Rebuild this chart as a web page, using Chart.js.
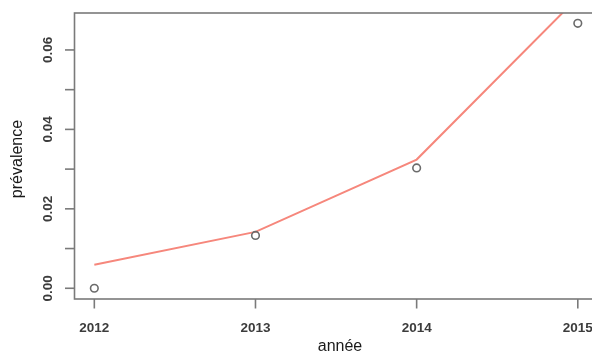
<!DOCTYPE html>
<html>
<head>
<meta charset="utf-8">
<script src="https://cdn.jsdelivr.net/npm/chart.js@4"></script>
<style>
  html, body { margin: 0; padding: 0; background: #fff; overflow: hidden; width: 592px; height: 356px; }
  #wrap { position: relative; width: 600px; height: 356px; }
  #c { display: block; width: 600px; height: 356px; }
</style>
</head>
<body>
<div id="wrap"><canvas id="c" width="600" height="356"></canvas></div>
<script>
const years = [2012, 2013, 2014, 2015];
const observed = [0.000, 0.0133, 0.0303, 0.0667];
const fitted = [0.0059, 0.0142, 0.0324, 0.0732];
const yTicks = [0, 0.01, 0.02, 0.03, 0.04, 0.05, 0.06];
const yTickLabels = ['0.00', '', '0.02', '', '0.04', '', '0.06'];
const xTickLabels = ['2012', '2013', '2014', '2015'];
const xTitle = 'année';
const yTitle = 'prévalence';

const axisColor = '#7a7a7a';
const tickTextColor = '#3c3c3c';

const rAxes = {
  id: 'rAxes',
  afterDraw(chart) {
    const ctx = chart.ctx;
    const a = chart.chartArea;
    const xs = chart.scales.x, ys = chart.scales.y;
    ctx.save();
    ctx.strokeStyle = axisColor;
    ctx.lineWidth = 1.6;
    ctx.strokeRect(a.left, a.top, a.right - a.left, a.bottom - a.top);
    ctx.fillStyle = tickTextColor;
    ctx.font = 'bold 13.5px "Liberation Sans", Arial, sans-serif';
    yTicks.forEach((v, i) => {
      const py = ys.getPixelForValue(v);
      ctx.beginPath();
      ctx.moveTo(a.left - 9.5, py);
      ctx.lineTo(a.left, py);
      ctx.stroke();
      if (yTickLabels[i]) {
        ctx.save();
        ctx.translate(48, py);
        ctx.rotate(-Math.PI / 2);
        ctx.textAlign = 'center';
        ctx.textBaseline = 'middle';
        ctx.fillText(yTickLabels[i], 0, 0);
        ctx.restore();
      }
    });
    years.forEach((v, i) => {
      const px = xs.getPixelForValue(v);
      ctx.beginPath();
      ctx.moveTo(px, a.bottom);
      ctx.lineTo(px, a.bottom + 9.5);
      ctx.stroke();
      ctx.textAlign = 'center';
      ctx.textBaseline = 'middle';
      ctx.fillText(xTickLabels[i], px, 328);
    });
    ctx.fillStyle = '#1a1a1a';
    ctx.font = '16px "Liberation Sans", Arial, sans-serif';
    ctx.textAlign = 'center';
    ctx.textBaseline = 'middle';
    ctx.fillText(xTitle, 340, 347);
    ctx.save();
    ctx.translate(18, 159);
    ctx.rotate(-Math.PI / 2);
    ctx.fillText(yTitle, 0, 0);
    ctx.restore();
    ctx.restore();
  }
};

new Chart(document.getElementById('c'), {
  type: 'scatter',
  data: {
    datasets: [
      {
        label: 'fitted',
        data: years.map((y, i) => ({ x: y, y: fitted[i] })),
        showLine: true,
        borderColor: '#f6877c',
        borderWidth: 2,
        pointRadius: 0,
        tension: 0,
        order: 2
      },
      {
        label: 'observed',
        data: years.map((y, i) => ({ x: y, y: observed[i] })),
        showLine: false,
        pointRadius: 3.8,
        pointBorderWidth: 1.6,
        pointBorderColor: '#6b6b6b',
        pointBackgroundColor: 'rgba(255,255,255,0)',
        order: 1
      }
    ]
  },
  options: {
    responsive: false,
    animation: false,
    events: [],
    layout: { padding: { left: 74.5, top: 13, right: 3.6, bottom: 57 } },
    plugins: { legend: { display: false }, tooltip: { enabled: false } },
    scales: {
      x: { type: 'linear', min: 2011.877, max: 2015.103, display: false },
      y: { type: 'linear', min: -0.0027, max: 0.0693, display: false }
    }
  },
  plugins: [rAxes]
});
</script>
</body>
</html>
